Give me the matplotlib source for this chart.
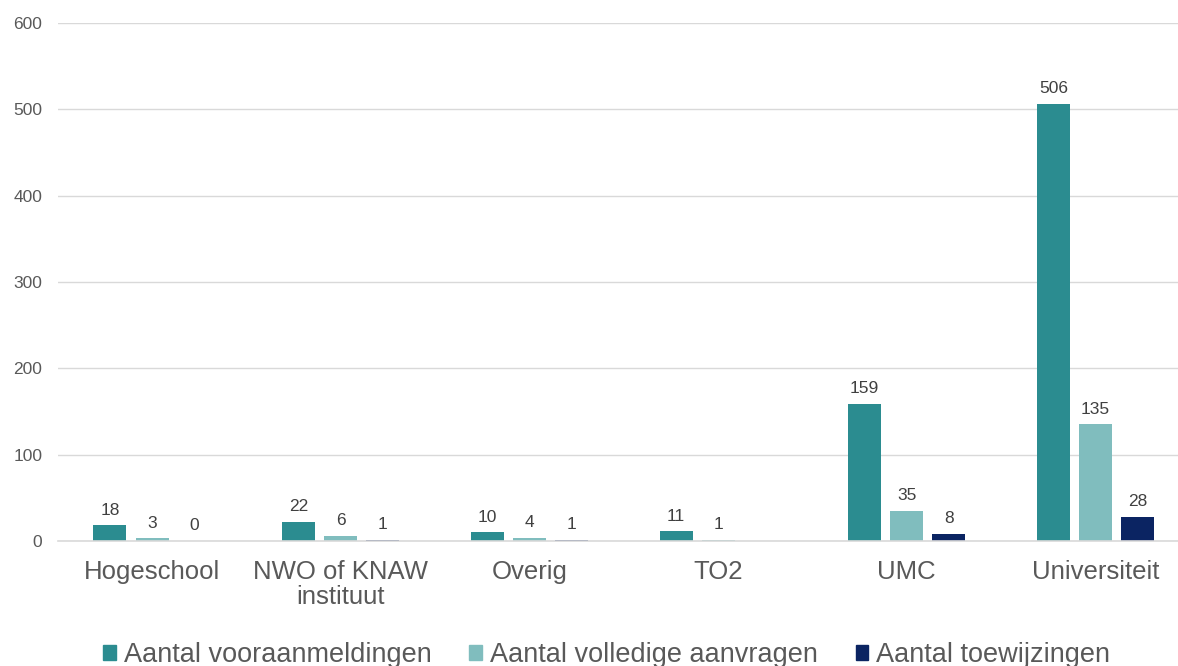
import numpy as np
import matplotlib.pyplot as plt
from matplotlib.patches import Patch

plt.rcParams['font.family'] = ['Liberation Sans', 'DejaVu Sans']

categories = ['Hogeschool', 'NWO of KNAW\ninstituut', 'Overig', 'TO2', 'UMC', 'Universiteit']
series_names = ['Aantal vooraanmeldingen', 'Aantal volledige aanvragen', 'Aantal toewijzingen']
vooraanmeldingen = [18, 22, 10, 11, 159, 506]
volledige = [3, 6, 4, 1, 35, 135]
toewijzingen = [0, 1, 1, None, 8, 28]
colors = ['#2b8c90', '#80bdbe', '#0b2462']

fig = plt.figure(figsize=(11.78, 6.66), dpi=100)
ax = fig.add_axes([0.049, 0.1877, 0.961, 0.7778])

x = np.arange(len(categories))
w = 0.175
offsets = [-0.223, 0, 0.223]
for vals, off, col in zip([vooraanmeldingen, volledige, toewijzingen], offsets, colors):
    for xi, v in zip(x, vals):
        if v is None:
            continue
        ax.bar(xi + off, v, width=w, color=col, zorder=3)
        ax.text(xi + off, v + 9, str(v), ha='center', va='bottom',
                fontsize=12.5, color='#404040')

ax.set_xlim(-0.5, len(categories) - 0.5)
ax.set_ylim(0, 600)
ax.set_yticks(range(0, 601, 100))
ax.yaxis.grid(True, color='#d9d9d9', linewidth=1, zorder=0)
for s in ['top', 'right', 'left']:
    ax.spines[s].set_visible(False)
ax.spines['bottom'].set_color('#d9d9d9')
ax.spines['bottom'].set_linewidth(1.2)
ax.spines['bottom'].set_zorder(4)
ax.set_xticks(x)
ax.set_xticklabels(categories, fontsize=18.5, color='#595959', linespacing=1.05)
ax.tick_params(axis='x', length=0, pad=14)
ax.tick_params(axis='y', length=0, labelsize=12.5, labelcolor='#595959', pad=11)

handles = [Patch(color=c) for c in colors]
fig.legend(handles, series_names, loc='center', bbox_to_anchor=(0.515, 0.016), ncol=3,
           frameon=False, fontsize=19.5, labelcolor='#595959', handlelength=0.45,
           handleheight=0.5, handletextpad=0.3, columnspacing=1.4)

fig.savefig('out.png', dpi=100)
